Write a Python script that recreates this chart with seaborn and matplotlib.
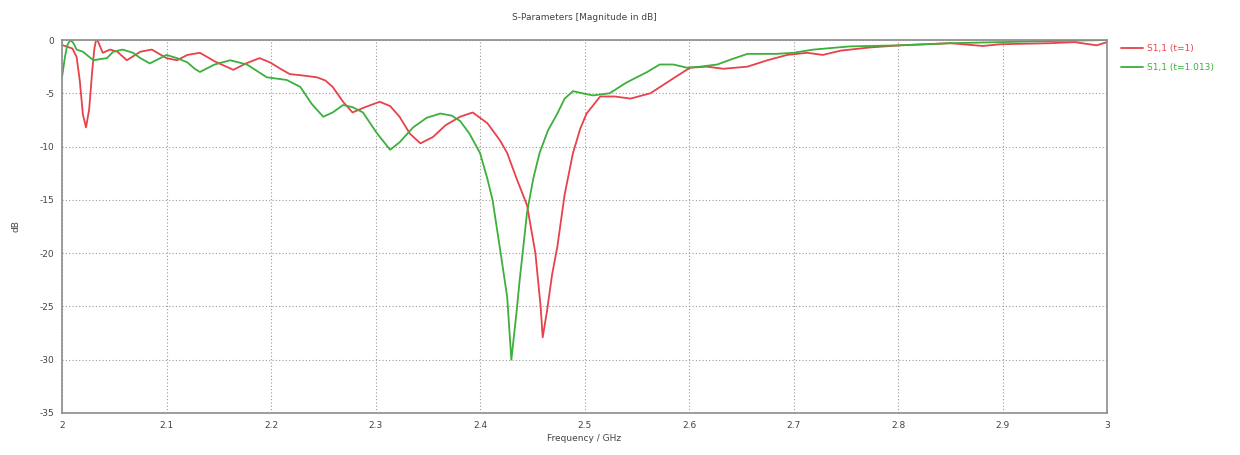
import matplotlib
matplotlib.use("Agg")
import matplotlib.pyplot as plt
import seaborn as sns
import pandas as pd
from matplotlib.lines import Line2D

# ---- data ----
series_names = ["S1,1 (t=1)", "S1,1 (t=1.013)"]

red_freq = [2.001, 2.010, 2.014, 2.017, 2.020, 2.023, 2.026, 2.029, 2.031, 2.033, 2.036, 2.039,
            2.046, 2.053, 2.062, 2.075, 2.086, 2.100, 2.110, 2.120, 2.132, 2.146,
            2.164, 2.176, 2.189, 2.199, 2.209, 2.218, 2.228, 2.244, 2.252, 2.259,
            2.269, 2.278, 2.290, 2.304, 2.314, 2.323, 2.333, 2.343, 2.355, 2.367,
            2.381, 2.393, 2.407, 2.419, 2.426, 2.435, 2.445, 2.453, 2.458, 2.460,
            2.464, 2.469, 2.474, 2.481, 2.489, 2.496, 2.502, 2.515, 2.529, 2.544, 2.563,
            2.585, 2.601, 2.617, 2.633, 2.656, 2.675, 2.694, 2.713, 2.728, 2.745,
            2.773, 2.802, 2.850, 2.881, 2.898, 2.945, 2.969, 2.990, 3.000]
red_db = [-0.5, -0.8, -1.6, -3.8, -7.0, -8.2, -6.5, -2.8, -0.8, 0.2, -0.5, -1.2,
          -0.9, -1.1, -1.9, -1.1, -0.9, -1.7, -1.9, -1.4, -1.2, -2.0,
          -2.8, -2.2, -1.7, -2.1, -2.7, -3.2, -3.3, -3.5, -3.8, -4.4,
          -5.8, -6.8, -6.3, -5.8, -6.2, -7.2, -8.8, -9.7, -9.1, -8.0,
          -7.2, -6.8, -7.8, -9.4, -10.6, -13.0, -15.5, -20.0, -25.0, -27.9,
          -25.5, -22.0, -19.4, -14.5, -10.6, -8.3, -6.9, -5.3, -5.3, -5.5, -5.0,
          -3.6, -2.6, -2.5, -2.7, -2.5, -1.9, -1.4, -1.2, -1.4, -1.0,
          -0.7, -0.5, -0.3, -0.56, -0.4, -0.3, -0.2, -0.5, -0.2]

green_freq = [2.000, 2.003, 2.005, 2.008, 2.011, 2.014, 2.020, 2.030, 2.036, 2.043,
              2.049, 2.058, 2.068, 2.075, 2.084, 2.094, 2.100, 2.110, 2.120, 2.127,
              2.132, 2.146, 2.161, 2.177, 2.196, 2.215, 2.228, 2.239, 2.250, 2.259,
              2.269, 2.278, 2.288, 2.301, 2.314, 2.323, 2.336, 2.349, 2.362, 2.373,
              2.381, 2.390, 2.400, 2.407, 2.412, 2.419, 2.426, 2.430, 2.435, 2.438,
              2.445, 2.451, 2.457, 2.465, 2.474, 2.481, 2.489, 2.498, 2.508, 2.524,
              2.540, 2.560, 2.572, 2.585, 2.598, 2.611, 2.627, 2.641, 2.656, 2.684,
              2.700, 2.719, 2.754, 2.802, 2.850, 2.898, 2.945, 3.000]
green_db = [-3.5, -1.5, -0.5, 0.0, -0.3, -0.9, -1.1, -1.9, -1.8, -1.7,
            -1.1, -0.9, -1.2, -1.7, -2.2, -1.7, -1.4, -1.7, -2.1, -2.7,
            -3.0, -2.3, -1.9, -2.3, -3.5, -3.75, -4.4, -6.0, -7.2, -6.8,
            -6.1, -6.3, -6.8, -8.7, -10.3, -9.6, -8.2, -7.3, -6.9, -7.1,
            -7.6, -8.8, -10.6, -13.0, -15.0, -19.5, -24.1, -30.0, -25.5, -22.5,
            -16.2, -13.0, -10.6, -8.5, -6.9, -5.5, -4.8, -5.0, -5.2, -5.0,
            -4.0, -3.0, -2.3, -2.3, -2.6, -2.5, -2.3, -1.8, -1.3, -1.3,
            -1.2, -0.9, -0.6, -0.5, -0.3, -0.2, -0.1, 0.0]

x_ticks = [2.0, 2.1, 2.2, 2.3, 2.4, 2.5, 2.6, 2.7, 2.8, 2.9, 3.0]
x_tick_labels = ["2", "2.1", "2.2", "2.3", "2.4", "2.5", "2.6", "2.7", "2.8", "2.9", "3"]
y_ticks = [0, -5, -10, -15, -20, -25, -30, -35]
y_tick_labels = ["0", "-5", "-10", "-15", "-20", "-25", "-30", "-35"]

colors = ["#e8414b", "#3caf3c"]

df = pd.concat([
    pd.DataFrame({"freq": red_freq, "dB": red_db, "series": series_names[0]}),
    pd.DataFrame({"freq": green_freq, "dB": green_db, "series": series_names[1]}),
], ignore_index=True)

sns.set_style("white")
plt.rcParams["font.family"] = ["DejaVu Sans"]

fig = plt.figure(figsize=(12.4, 4.55), dpi=100)
ax = fig.add_axes([62 / 1240, 1 - 413 / 455, (1107 - 62) / 1240, (413 - 40) / 455])

sns.lineplot(data=df, x="freq", y="dB", hue="series", palette=colors,
             estimator=None, sort=False, linewidth=1.3, ax=ax, legend=False)

ax.set_xlim(2.0, 3.0)
ax.set_ylim(-35, 0)
ax.set_xticks(x_ticks)
ax.set_xticklabels(x_tick_labels)
ax.set_yticks(y_ticks)
ax.set_yticklabels(y_tick_labels)
ax.tick_params(axis="both", labelsize=6.5, colors="#444444", length=2, width=0.8, direction="out")
ax.grid(True, color="#9a9a9a", linestyle=(0, (1, 2)), linewidth=0.8)
for sp in ax.spines.values():
    sp.set_color("#8c8c8c")
    sp.set_linewidth(1.2)

ax.set_xlabel("Frequency / GHz", fontsize=6.5, color="#444444", labelpad=3)
ax.set_ylabel("dB", fontsize=6.5, color="#444444", labelpad=14)
fig.text((62 + 1107) / 2 / 1240, 1 - 17 / 455, "S-Parameters [Magnitude in dB]",
         ha="center", va="center", fontsize=6.5, color="#444444")

# legend outside on the right
handles = [Line2D([0], [0], color=c, lw=1.3) for c in colors]
leg = fig.legend(handles, series_names, loc="upper left",
                 bbox_to_anchor=(1113 / 1240, 1 - 36 / 455), frameon=False,
                 fontsize=6.5, handlelength=2.4, handletextpad=0.5, labelspacing=1.1)
for t, c in zip(leg.get_texts(), colors):
    t.set_color(c)

fig.savefig("out.png", dpi=100, facecolor="white")
